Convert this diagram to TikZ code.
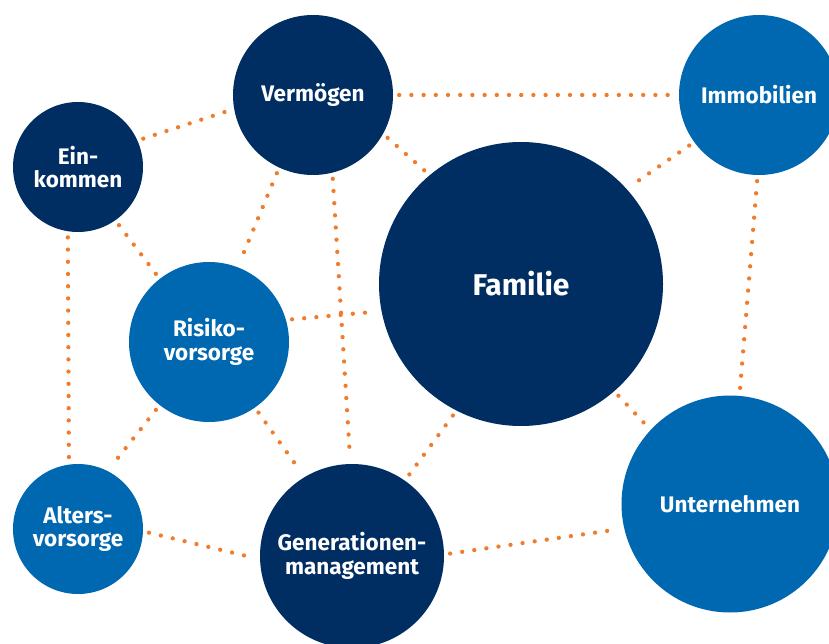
\documentclass[tikz,border=0pt]{standalone}
\usepackage{fontspec}
\setmainfont{Fira Sans}
\usetikzlibrary{positioning}
\definecolor{navy}{HTML}{002E63}
\definecolor{midblue}{HTML}{0067B1}
\definecolor{dotorange}{HTML}{F07D2D}

\tikzset{
  bubble/.style={circle, inner sep=0pt, text=white, align=center,
    font=\bfseries\fontsize{22.5}{23.5}\selectfont},
  link/.style={dotorange, line width=4.3pt, line cap=round,
    dash pattern=on 0pt off 12.2pt, shorten <=6pt, shorten >=6pt}
}

\begin{document}
\begin{tikzpicture}[x=1pt, y=-1pt]
  \clip (0,0) rectangle (829,644);

  % Circles
  \node[bubble, fill=navy, minimum size=160pt] (verm) at (313,95) {Vermögen};
  \node[bubble, fill=navy, minimum size=130pt] (eink) at (78,167) {Ein-\\kommen};
  \node[bubble, fill=midblue, minimum size=160pt] (immo) at (759,95) {Immobilien};
  \node[bubble, fill=navy, minimum size=284pt,
    font=\bfseries\fontsize{30}{34}\selectfont] (fam) at (521,284) {Familie};
  \node[bubble, fill=midblue, minimum size=160pt] (risiko) at (209,342) {Risiko-\\vorsorge};
  \node[bubble, fill=midblue, minimum size=130pt] (alters) at (78,529) {Alters-\\vorsorge};
  \node[bubble, fill=navy, minimum size=184pt] (gen) at (352,556) {Generationen-\\management};
  \node[bubble, fill=midblue, minimum size=217pt] (untern) at (730,504) {Unternehmen};

  % Dotted links
  \foreach \a/\b in {eink.24/verm.190, verm.0/immo.180, verm.-29/fam.130,
      immo.216/fam.42, immo.-91/untern.85, eink.261/alters.98,
      eink.-55/risiko.128, verm.245/risiko.69, verm.-76/gen.91,
      risiko.16/fam.191, risiko.232/alters.63, risiko.-55/gen.121,
      fam.243/gen.55, fam.-49/untern.137, alters.-2/gen.182,
      gen.1/untern.193} {
    \draw[link] (\a) -- (\b);
  }
\end{tikzpicture}
\end{document}
